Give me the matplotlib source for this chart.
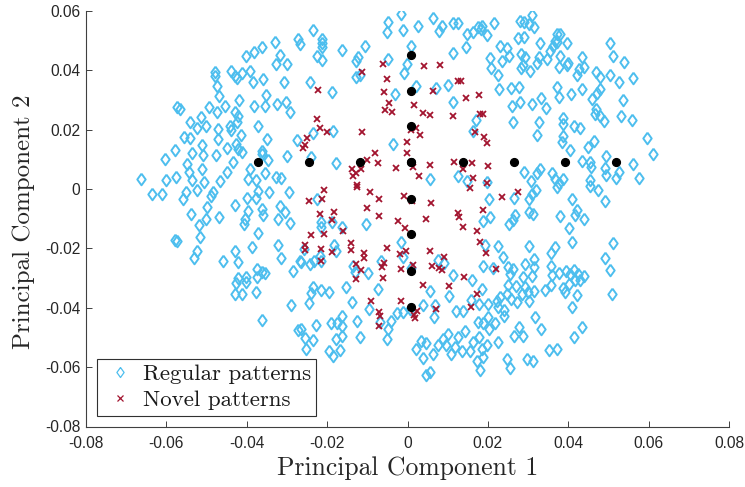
import numpy as np
import matplotlib
matplotlib.use("Agg")
import matplotlib.pyplot as plt

# principal component scores, in thousandths
regular = [
(-33.0,49.4),(-27.2,50.6),(-26.8,48.9),(-36.3,47.9),(-38.2,46.3),(-40.1,44.8),(-31.8,45.2),(-32.8,42.3),(-30.0,42.0),(-44.0,39.7),
(-47.9,39.3),(-47.9,38.0),(-43.0,38.2),(-42.4,37.4),(-41.1,39.0),(-39.3,39.9),(-38.4,36.2),(-35.9,37.0),(-30.7,36.2),(-47.3,34.8),
(-47.0,31.4),(-41.9,30.0),(-35.1,31.7),(-57.3,27.8),(-56.5,27.0),(-49.4,27.8),(-47.5,25.9),(-45.5,28.0),(-38.1,28.0),(-35.4,28.1),
(-32.4,28.7),(-30.3,29.5),(-29.3,25.9),(-42.9,25.9),(-42.2,24.7),(-51.4,24.3),(-54.2,22.5),(-42.4,22.5),(-44.2,21.4),(-43.8,20.0),
(-50.2,21.4),(-52.5,20.5),(-47.1,20.2),(-37.1,21.4),(-41.4,18.3),(-55.5,17.7),(-54.0,17.3),(-47.1,16.9),(-35.0,16.8),(-27.6,16.7),
(-51.1,14.7),(-45.0,14.0),(-42.6,15.1),(-42.1,13.5),(-41.3,12.6),(-57.9,13.3),(-53.5,12.3),(-50.9,11.4),(-47.7,11.5),(-36.1,12.8),
(-36.3,11.8),(-29.9,11.3),(-60.4,10.2),(-54.9,8.3),(-43.5,9.0),(-34.6,9.8),(-54.3,5.9),(-51.2,6.6),(-45.0,5.9),(-39.1,6.8),
(-35.5,5.4),(-66.4,3.3),(-60.0,3.0),(-57.7,3.9),(-53.5,3.1),(-50.7,2.3),(-46.6,2.8),(-39.6,3.4),(-37.6,3.1),(-32.8,4.1),(-31.6,3.6),
(-23.5,53.6),(-21.2,50.6),(-21.2,49.2),(-21.2,47.8),(-16.2,46.9),(-10.6,48.1),(-22.5,44.7),(-21.3,43.6),(-12.4,44.6),(-12.9,43.3),
(-4.9,43.8),(-12.9,37.7),(-11.9,38.4),(-24.3,36.1),(-18.9,32.6),(-1.6,59.0),(-4.9,56.2),(-5.1,52.8),(-1.2,53.7),(2.6,55.0),
(6.4,57.5),(8.6,55.1),(7.9,53.3),(11.4,56.0),(12.5,56.0),(14.9,52.1),(16.4,52.8),(17.6,54.5),(0.8,48.3),(14.5,47.8),(11.2,46.0),
(-0.2,42.0),(-0.8,39.2),(2.0,34.7),(-3.1,31.9),(7.2,34.0),(10.1,35.1),(11.2,29.5),(17.0,23.4),(16.2,19.7),(-23.5,18.8),(-18.5,19.7),
(-3.6,15.2),(-24.1,10.7),(-17.9,8.8),(5.7,3.3),(12.5,4.5),(14.7,2.6),
(18.5,55.1),(18.3,54.0),(21.4,56.0),(19.9,51.9),(28.0,56.5),(29.1,56.2),(30.3,55.6),(30.9,58.8),(31.6,54.7),(27.4,50.9),(28.9,51.1),
(33.0,49.3),(22.9,48.1),(24.7,47.4),(25.2,44.7),(20.5,44.2),(23.5,43.0),(20.8,40.8),(22.4,38.4),(28.2,45.5),(29.3,44.4),(28.7,41.8),
(28.2,40.8),(30.6,39.8),(32.2,42.5),(32.8,44.4),(34.6,43.8),(35.5,46.6),(36.2,48.1),(36.7,50.0),(37.1,52.3),(38.0,52.3),(37.3,49.5),
(39.8,49.1),(38.0,45.0),(37.6,41.2),(39.8,41.8),(40.0,42.5),(43.5,44.4),(43.8,41.0),(42.7,40.5),(42.1,38.6),(50.3,49.3),(51.2,44.7),
(53.8,42.7),(46.9,39.6),(47.9,37.7),(50.3,38.3),(52.6,36.2),(56.2,37.4),(22.8,33.6),(25.8,34.1),(27.8,34.5),(37.1,34.3),(37.7,31.1),
(40.6,32.0),(43.4,33.6),(47.9,33.7),(47.1,32.4),(45.9,30.4),(53.7,30.1),(26.1,27.9),(28.0,29.3),(30.9,28.6),(33.1,30.7),(34.5,27.2),
(46.9,27.0),(46.7,25.3),(47.8,24.7),(48.9,22.8),(53.2,24.6),(55.8,23.3),(26.2,22.5),(32.7,22.5),(38.6,24.0),(38.8,22.0),(41.5,21.4),
(43.0,20.7),(32.2,18.3),(38.7,17.8),(38.4,15.8),(46.5,16.1),(45.0,14.3),(59.5,17.1),(61.0,11.9),(40.5,13.3),(49.4,11.3),(43.4,9.6),
(45.3,9.0),(45.7,7.4),(56.1,8.6),(49.2,7.0),(49.3,4.9),(52.7,5.6),(51.9,3.7),(57.6,3.7),(29.0,5.7),(33.0,6.8),(32.3,5.3),(30.7,2.6),
(35.9,5.3),(36.7,3.4),(38.8,3.4),(37.6,1.9),(45.3,3.2),(19.7,2.5),
(-63.5,-1.6),(-61.2,-1.7),(-55.8,-3.5),(-55.0,-1.1),(-52.3,-0.2),(-48.4,-1.1),(-48.8,-2.2),(-42.9,-5.2),(-39.9,-3.0),(-37.7,-3.1),
(-37.2,-0.5),(-34.4,-1.1),(-29.4,-1.1),(-49.9,-6.1),(-53.8,-8.4),(-50.2,-10.0),(-46.9,-9.5),(-52.0,-12.0),(-51.6,-16.0),(-39.8,-7.5),
(-40.5,-10.0),(-40.6,-11.7),(-36.2,-6.7),(-35.9,-8.9),(-31.8,-5.8),(-30.4,-7.6),(-32.3,-10.0),(-29.2,-11.6),(-37.1,-14.8),(-57.9,-17.0),
(-57.3,-17.6),(-38.6,-19.6),(-32.3,-18.7),(-52.5,-20.7),(-53.2,-23.3),(-43.0,-21.0),(-45.9,-24.2),(-42.1,-24.6),(-31.4,-23.3),(-26.8,-24.4),
(-28.6,-27.7),(-37.4,-26.9),(-36.3,-28.0),(-35.4,-28.4),(-37.4,-29.7),(-42.3,-29.9),(-42.7,-31.6),(-40.1,-29.7),(-40.1,-31.2),(-43.0,-35.2),
(-41.1,-35.4),(-37.8,-34.8),(-28.9,-39.0),(-36.2,-44.0),(-27.2,-47.4),
(-22.5,-3.3),(-21.4,-11.2),(-21.4,-12.9),(-18.7,-11.2),(-16.3,-12.8),(-10.4,-11.8),(-1.7,-17.7),(-18.3,-18.8),(-17.7,-20.7),(-25.8,-20.2),
(-21.8,-22.7),(-21.4,-24.4),(-26.4,-24.6),(-24.3,-25.2),(-23.3,-24.1),(-6.7,-24.1),(-1.2,-23.0),(-13.5,-25.8),(-13.1,-27.8),(-9.8,-28.4),
(0.8,-26.7),(7.6,-23.8),(9.1,-24.9),(11.4,-28.9),(16.0,-30.6),(-23.6,-32.9),(-23.9,-35.1),(-21.6,-34.0),(-19.5,-34.8),(-15.4,-32.9),
(-7.3,-33.6),(5.7,-34.4),(10.4,-36.1),(-24.6,-38.3),(-13.8,-38.2),(-9.6,-40.5),(15.8,-37.5),(3.8,-38.9),(6.8,-39.2),(6.6,-43.2),
(12.0,-41.0),(13.9,-41.0),(17.9,-38.7),(0.6,-40.4),(-1.1,-41.5),(-2.7,-41.8),(-4.0,-44.3),(-4.8,-47.1),(-6.9,-44.9),(-5.2,-50.5),
(-16.3,-42.8),(-17.5,-45.2),(-19.1,-45.1),(-16.3,-46.3),(-22.8,-45.7),(-12.5,-44.5),(-16.4,-49.6),(-17.7,-50.5),(-11.9,-50.0),(-26.4,-47.3),
(-25.6,-50.3),(-23.5,-50.8),(-25.3,-53.9),(-19.5,-54.6),(-18.5,-56.1),(-16.7,-54.1),(2.1,-53.9),(3.3,-51.3),(4.6,-51.8),(3.9,-56.9),
(6.4,-55.5),(7.6,-52.5),(8.9,-50.5),(10.1,-49.0),(9.7,-52.7),(10.7,-55.5),(11.8,-53.3),(12.6,-49.9),(13.5,-54.6),(14.3,-47.7),(15.5,-54.4),
(16.4,-51.6),(17.2,-57.8),(17.9,-49.9),(4.7,-62.5),(5.6,-61.5),(17.6,-44.9),
(20.4,-3.3),(26.5,-3.1),(30.3,-3.3),(30.9,-1.6),(32.0,-0.3),(37.1,0.6),(45.3,1.0),(47.3,-0.2),(41.0,-3.3),(49.2,-3.9),(30.3,-7.6),(31.2,-8.4),
(38.0,-9.0),(42.3,-6.9),(41.7,-8.7),(43.9,-10.2),(26.8,-8.7),(26.2,-10.4),(25.3,-11.7),(20.5,-9.5),(18.7,-10.8),(40.1,-13.0),(40.9,-17.7),
(51.2,-18.1),(19.3,-18.8),(22.4,-19.3),(30.3,-19.3),(36.8,-19.4),(35.6,-21.5),(23.7,-23.0),(31.4,-23.5),(49.1,-23.1),(18.9,-25.8),(21.2,-26.6),
(24.9,-26.1),(26.2,-26.9),(29.3,-25.2),(31.6,-26.3),(35.7,-25.8),(50.4,-27.2),(25.4,-28.6),(28.7,-29.7),(31.1,-29.4),(36.0,-29.1),(37.6,-28.2),
(39.5,-27.6),(41.5,-27.1),(40.5,-28.6),(42.5,-28.6),(43.9,-29.4),(43.0,-30.5),(41.7,-30.8),(25.1,-32.2),(26.9,-32.8),(29.3,-33.1),(35.8,-32.2),
(34.2,-34.1),(38.8,-33.4),(40.3,-32.0),(39.2,-34.8),(18.5,-33.6),(31.5,-34.2),(29.9,-34.8),(28.4,-35.3),(42.3,-35.8),(50.8,-35.3),(24.7,-35.5),
(22.9,-36.2),(22.2,-37.6),(25.7,-37.2),(27.2,-37.9),(30.3,-37.6),(20.1,-38.8),(40.9,-39.8),(22.6,-39.8),(23.9,-40.9),(24.0,-42.8),(31.8,-43.1),
(20.1,-43.2),(18.7,-45.2),(21.8,-45.2),(20.3,-47.1),(27.8,-46.5),(33.2,-47.1),(26.4,-49.4),(28.7,-49.4),(43.3,-46.5),(41.5,-49.7),(22.5,-51.6),
(19.7,-52.4),(18.5,-53.9),(35.3,-54.2),(37.3,-53.9),(18.9,-56.7),(24.7,-57.4),(29.7,-57.1),(31.2,-57.8),(25.5,-60.3),(18.05,-60.8),
]
novel = [
(-11.3,39.5),(-6.0,42.1),(4.0,41.4),(8.0,41.8),(-5.1,37.1),(-22.2,33.5),(-5.8,32.7),(6.4,33.0),(12.6,36.4),(13.4,36.4),(14.5,30.7),(17.9,31.7),
(-4.7,29.1),(1.7,28.3),(-5.7,26.8),(-3.8,26.1),(3.8,25.5),(5.5,25.1),(11.2,24.5),(18.0,25.3),(-22.5,23.6),(-21.7,20.7),(-20.0,19.1),(-11.3,19.2),
(-25.0,17.2),(-25.4,14.9),(-26.1,13.7),(2.0,20.5),(0.8,19.8),(3.2,18.3),(16.8,19.2),(-0.1,15.9),(-0.1,12.2),(-8.0,12.1),(-10.2,9.8),(-7.3,8.7),
(5.5,8.1),(-2.8,7.0),(1.3,7.3),(11.5,9.1),(16.1,8.9),(13.7,6.8),(-13.9,6.8),(-12.7,5.3),(-13.5,4.3),(-11.6,6.8),(2.9,4.4),(16.4,3.6),(-12.5,1.4),
(18.8,25.3),(19.1,17.4),(19.7,15.5),(20.1,7.9),(19.9,2.1),
(-20.8,-0.4),(-12.5,0.8),(-9.3,-0.9),(15.5,0.3),(-24.5,-4.0),(-21.2,-3.4),(-7.0,-3.3),(-0.9,-2.4),(1.2,-3.9),(5.9,-4.7),(-10.0,-6.3),(-21.7,-8.3),
(-18.3,-7.6),(-7.1,-9.0),(-18.7,-10.3),(-2.3,-10.6),(4.7,-10.0),(12.6,-8.0),(12.9,-9.5),(13.9,-12.7),(-0.7,-13.0),(-16.0,-14.1),(17.4,-14.0),
(-20.8,-15.3),(-24.0,-15.6),(18.0,-17.9),(-25.6,-19.0),(-25.4,-20.4),(-21.5,-20.2),(-14.0,-18.1),(-14.0,-20.6),(-18.7,-21.3),(-5.2,-19.8),(-0.4,-20.8),
(-1.8,-22.0),(5.7,-20.9),(-10.7,-21.6),(-10.7,-23.2),(9.1,-22.9),(-21.4,-24.3),(-12.8,-25.2),(-11.5,-27.1),(-5.8,-24.8),(-6.3,-26.2),(-1.5,-26.9),
(1.4,-25.5),(6.2,-25.9),(7.9,-26.7),(8.6,-27.1),(14.1,-29.6),(-6.1,-29.9),(-12.9,-30.4),(3.9,-32.4),(10.4,-32.6),(17.4,-35.5),(-9.1,-37.6),(-1.6,-37.7),
(15.7,-39.9),(7.1,-40.5),(2.3,-41.0),(1.7,-42.4),(1.8,-43.4),(-7.0,-41.5),(-6.9,-42.6),(-7.2,-46.1),
(27.4,-1.0),(23.4,-2.6),(18.9,-7.2),(19.5,-21.6),(22.0,-26.9),
]
centre_row_x = [-37.2,-24.5,-11.8,0.9,13.8,26.5,39.2,51.9]
centre_row_y = [9.0]*8
centre_col_x = [0.9]*8
centre_col_y = [45.3,33.2,21.1,9.0,-3.2,-15.3,-27.5,-39.6]
x_ticks = [-0.08,-0.06,-0.04,-0.02,0,0.02,0.04,0.06,0.08]
y_ticks = [-0.08,-0.06,-0.04,-0.02,0,0.02,0.04,0.06]

reg = np.array(regular)*1e-3
nov = np.array(novel)*1e-3

W,H = 745,487
fig = plt.figure(figsize=(W/100,H/100),dpi=100)
ax = fig.add_axes([86/W,1-426.5/H,643/W,415.5/H])
blue='#4DBEEE'; red='#A2142F'
diamond=[(0,1),(0.72,0),(0,-1),(-0.72,0),(0,1)]
ax.plot(reg[:,0],reg[:,1],ls='none',marker=diamond,ms=8.4,mfc='none',mec=blue,mew=1.4,label='Regular patterns')
ax.plot(nov[:,0],nov[:,1],ls='none',marker='x',ms=4.6,mec=red,mew=1.3,label='Novel patterns')
ax.plot(np.array(centre_row_x)*1e-3,np.array(centre_row_y)*1e-3,ls='none',marker='o',ms=5.6,color='k')
ax.plot(np.array(centre_col_x)*1e-3,np.array(centre_col_y)*1e-3,ls='none',marker='o',ms=5.6,color='k')
ax.set_xlim(-0.08,0.08); ax.set_ylim(-0.08,0.06)
ax.set_xticks(x_ticks); ax.set_yticks(y_ticks)
ax.set_xticklabels(['-0.08','-0.06','-0.04','-0.02','0','0.02','0.04','0.06','0.08'])
ax.set_yticklabels(['-0.08','-0.06','-0.04','-0.02','0','0.02','0.04','0.06'])
ax.spines['top'].set_visible(False); ax.spines['right'].set_visible(False)
for s in ('left','bottom'):
    ax.spines[s].set_color('#404040'); ax.spines[s].set_linewidth(0.8)
ax.tick_params(direction='in',length=4.5,width=0.7,color='#404040',labelcolor='#262626',labelsize=11.2,pad=4)
ax.tick_params(axis='x',pad=7)
for t in ax.get_xticklabels()+ax.get_yticklabels():
    t.set_fontfamily('Liberation Sans')
cm='cmr10'
fig.text(408/W,1-468/H,'Principal Component 1',family=cm,fontsize=18.5,color='#262626',ha='center',va='center')
fig.text(24/W,1-222/H,'Principal Component 2',family=cm,fontsize=18,color='#262626',ha='center',va='center',rotation=90)
leg = ax.legend(loc='lower left',bbox_to_anchor=((97-86)/643,(426.5-416)/415.5,(316-97)/643,(416-357)/415.5),mode='expand',
    prop={'family':cm,'size':16.5},frameon=True,fancybox=False,framealpha=1,edgecolor='#303030',borderaxespad=0,borderpad=0.24,
    labelspacing=0.26,handletextpad=0.24,handlelength=1.52)
leg.get_frame().set_linewidth(0.8)
leg.legend_handles[0].set_markersize(7.2)
leg.legend_handles[0].set_markeredgewidth(0.9)
leg.legend_handles[1].set_markersize(4.0)
leg.legend_handles[1].set_markeredgewidth(0.9)
for t in leg.get_texts():
    t.set_color('#1a1a1a')
fig.savefig('out.png',dpi=100)
